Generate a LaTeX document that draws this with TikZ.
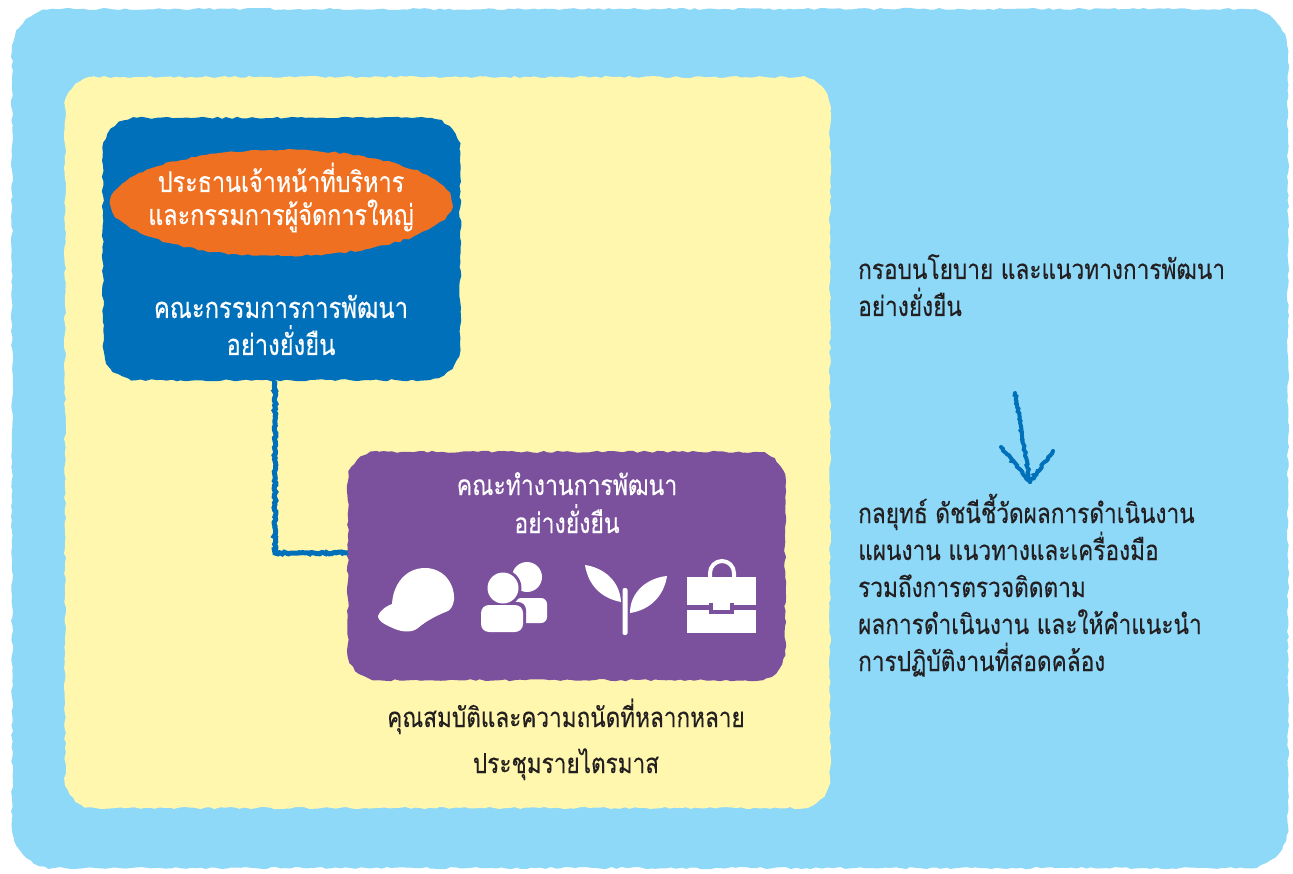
\documentclass[tikz,border=0pt]{standalone}
\usepackage{fontspec}
\newfontfamily\thai[Script=Thai,FakeStretch=0.82,FakeBold=0.3]{Loma}
\usetikzlibrary{decorations.pathmorphing,calc,shapes.geometric}
\definecolor{skyc}{HTML}{8ED8F8}
\definecolor{creamc}{HTML}{FFF7AE}
\definecolor{bluec}{HTML}{0070BA}
\definecolor{orangec}{HTML}{F07021}
\definecolor{purplec}{HTML}{7B519D}
\definecolor{inkc}{HTML}{231F20}
\tikzset{
  rough/.style={decorate,decoration={random steps,segment length=5pt,amplitude=1.1pt}},
  holder/.style={draw=none,fill=none,inner sep=0pt},
  whitetxt/.style={text=white,font=\thai\fontsize{28.5}{33}\selectfont,align=center,inner sep=0pt,anchor=base},
  darktxt/.style={text=inkc,font=\thai\fontsize{27.6}{37}\selectfont,inner sep=0pt},
  conn/.style={draw=bluec,line width=5pt,decorate,decoration={random steps,segment length=2pt,amplitude=1pt}},
  sketcharrow/.style={draw=bluec,line width=4pt,line cap=round,decorate,decoration={random steps,segment length=2pt,amplitude=0.9pt}},
  icon/.style={fill=white,draw=none}
}
% rough rounded panel between two corner points: colour, north-west, south-east, radius
\newcommand\rpanel[4]{%
  \fill[#1,rough] ($(#2)+(#4,0)$) -- ($(#2 -| #3)+(-#4,0)$)
    arc[start angle=-90,end angle=0,radius=#4] -- ($(#3)+(0,-#4)$)
    arc[start angle=0,end angle=90,radius=#4] -- ($(#3 -| #2)+(#4,0)$)
    arc[start angle=90,end angle=180,radius=#4] -- ($(#2)+(0,#4)$)
    arc[start angle=180,end angle=270,radius=#4] -- cycle;}
\begin{document}
\begin{tikzpicture}[x=1pt,y=-1pt]
\useasboundingbox (0,0) rectangle (1293,874);
\fill[white] (0,0) rectangle (1293,874);
% outer sky panel
\coordinate (skynw) at (12,9);
\coordinate (skyse) at (1288,868);
\rpanel{skyc}{skynw}{skyse}{42}
% cream panel
\coordinate (crnw) at (65,77);
\coordinate (crse) at (830,808);
\rpanel{creamc}{crnw}{crse}{30}
% blue committee box
\node[holder,minimum width=357pt,minimum height=262pt] (cb) at (281.5,249) {};
\rpanel{bluec}{cb.north west}{cb.south east}{34}
\node[ellipse,fill=orangec,rough,minimum width=342pt,minimum height=106pt,inner sep=0pt] (ceo) at (281,203) {};
\node[whitetxt] (ceotxt) at (281,225) {ประธานเจ้าหน้าที่บริหาร\\และกรรมการผู้จัดการใหญ่};
\node[whitetxt,font=\thai\fontsize{29}{37}\selectfont] (cbtxt) at (281,355) {คณะกรรมการการพัฒนา\\อย่างยั่งยืน};
% purple working group box
\node[holder,minimum width=437pt,minimum height=228pt] (wg) at (566.5,566) {};
\rpanel{purplec}{wg.north west}{wg.south east}{30}
\node[whitetxt,font=\thai\fontsize{28}{38}\selectfont] (wgtxt) at (567,533) {คณะทำงานการพัฒนา\\อย่างยั่งยืน};
% connector
\coordinate (cj) at (275,553);
\draw[conn] (cb.south -| cj) -- (cj) -- (cj -| wg.west);
% icons
% hard hat
\fill[icon] (378,616) .. controls (381,609) and (387,606) .. (392,604)
  .. controls (393,585) and (405,568) .. (425,568)
  .. controls (443,568) and (455,583) .. (454,600)
  .. controls (453,606) and (451,609) .. (448,611)
  .. controls (435,616) and (425,622) .. (418,628)
  .. controls (412,633) and (402,632) .. (395,629)
  .. controls (388,626) and (378,622) .. (378,616) -- cycle;
% people
\fill[icon] (527,577) circle (15);
\fill[icon,rounded corners=6pt] (515,623) -- (515,598) -- (547,598) -- (547,623) -- cycle;
\fill[purplec] (503,588) circle (18.5);
\fill[purplec,rounded corners=8pt] (478,635) -- (478,602) -- (526,602) -- (526,635) -- cycle;
\fill[icon] (503,588) circle (15.5);
\fill[icon,rounded corners=8pt] (481,632) -- (481,605) -- (523,605) -- (523,632) -- cycle;
% sprout
\fill[icon,rounded corners=2pt] (622.5,588) rectangle (627.5,635);
\fill[icon] (585,565) .. controls (605,568) and (620,582) .. (621,602)
  .. controls (600,598) and (588,584) .. (585,565) -- cycle;
\fill[icon] (667,576) .. controls (664,596) and (650,610) .. (630,613)
  .. controls (630,592) and (647,578) .. (667,576) -- cycle;
% briefcase
\draw[white,line width=4pt] (710,577) -- (710,573) arc[start angle=180,end angle=360,radius=12] -- (734,577);
\fill[icon] (687,577) rectangle (756,605);
\fill[icon] (687,610) rectangle (756,633);
\fill[purplec] (709,603) rectangle (734,614);
\fill[icon] (713,601) rectangle (730,610);
% captions under purple box
\node[darktxt,align=center,anchor=base,font=\thai\fontsize{27.5}{46}\selectfont] (qual) at (566,773) {คุณสมบัติและความถนัดที่หลากหลาย\\ประชุมรายไตรมาส};
% right column
\node[darktxt,anchor=base west,align=left] (policy) at (858,316) {กรอบนโยบาย และแนวทางการพัฒนา\\อย่างยั่งยืน};
\node[darktxt,anchor=base west,align=left] (strategy) at (858,671) {กลยุทธ์ ดัชนีชี้วัดผลการดำเนินงาน\\แผนงาน แนวทางและเครื่องมือ\\รวมถึงการตรวจติดตาม\\ผลการดำเนินงาน และให้คำแนะนำ\\การปฏิบัติงานที่สอดคล้อง};
% arrow
\coordinate (a1) at (1015,393);
\coordinate (a2) at (1030,482);
\draw[sketcharrow] (a1) -- (a2);
\draw[sketcharrow] (1001,447) -- (a2);
\draw[sketcharrow] (1053,451) -- (a2);
\end{tikzpicture}
\end{document}
